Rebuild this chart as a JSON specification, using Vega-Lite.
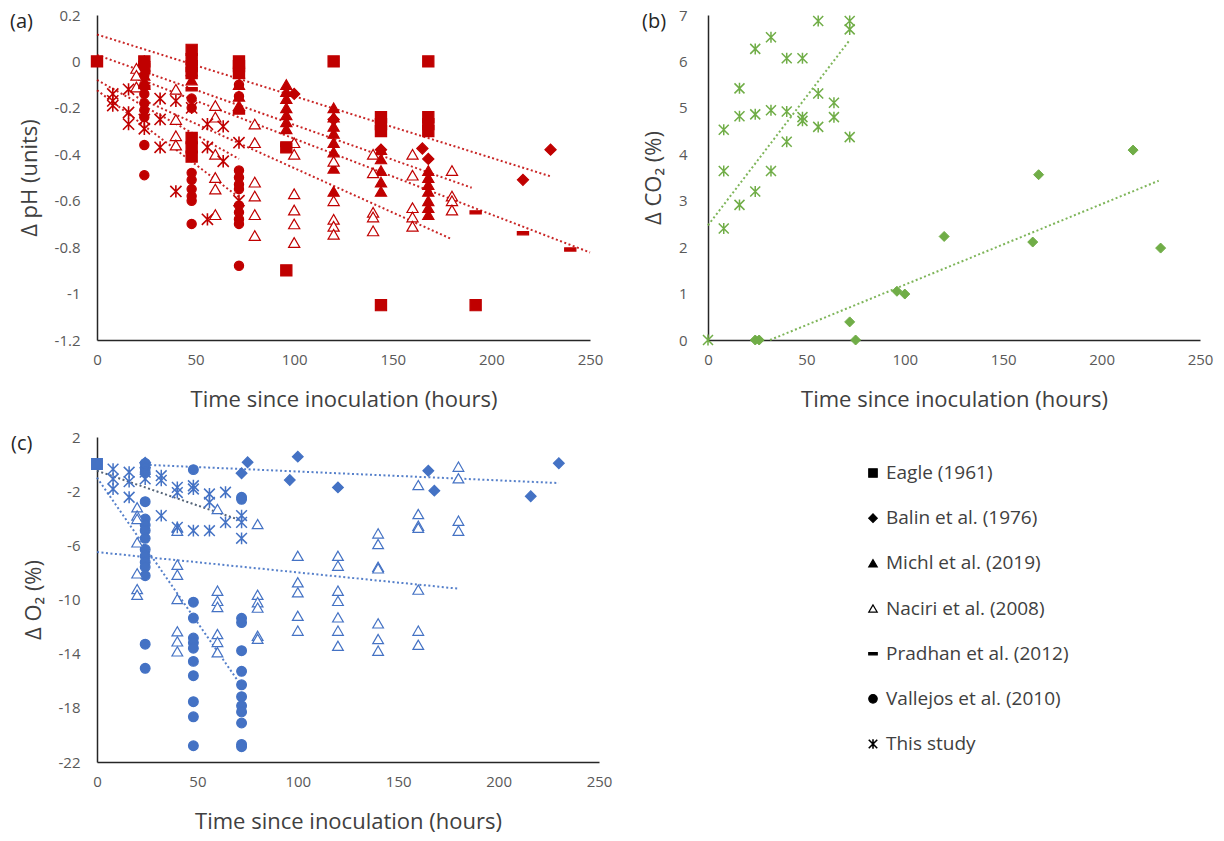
{
  "$schema": "https://vega.github.io/schema/vega-lite/v6.json",
  "bounds": "flush",
  "padding": {"left": 10, "top": 8, "right": 5, "bottom": 5},
  "background": "white",
  "config": {
    "font": "Open Sans",
    "view": {"stroke": null},
    "axis": {"grid": false, "ticks": false, "tickSize": 0, "domainColor": "#262626", "domainWidth": 1.5, "labelFont": "Open Sans", "labelFontSize": 15, "labelColor": "#595959", "titleFont": "Open Sans", "titleFontSize": 22, "titleFontWeight": "normal", "titleColor": "#404040", "labelFlush": false, "labelPadding": 12},
    "axisY": {"labelPadding": 17, "titlePadding": 13},
    "axisX": {"titlePadding": 22},
    "title": {"font": "Open Sans", "fontSize": 20, "fontWeight": "normal", "color": "#262626", "anchor": "start", "frame": "group", "offset": 0, "baseline": "top"}
  },
  "datasets": {
    "studies": [
      {"study":"Eagle (1961)"},{"study":"Balin et al. (1976)"},{"study":"Michl et al. (2019)"},{"study":"Naciri et al. (2008)"},{"study":"Pradhan et al. (2012)"},{"study":"Vallejos et al. (2010)"},{"study":"This study"}
    ],
    "ph": [
      {"study":"Eagle (1961)","t":0,"v":0},{"study":"Eagle (1961)","t":24,"v":0},{"study":"Eagle (1961)","t":24,"v":-0.03},{"study":"Eagle (1961)","t":48,"v":0.05},{"study":"Eagle (1961)","t":48,"v":0.01},{"study":"Eagle (1961)","t":48,"v":-0.02},{"study":"Eagle (1961)","t":48,"v":-0.05},{"study":"Eagle (1961)","t":48,"v":-0.33},{"study":"Eagle (1961)","t":48,"v":-0.37},{"study":"Eagle (1961)","t":48,"v":-0.41},{"study":"Eagle (1961)","t":72,"v":0},{"study":"Eagle (1961)","t":72,"v":-0.02},{"study":"Eagle (1961)","t":72,"v":-0.05},{"study":"Eagle (1961)","t":96,"v":-0.37},{"study":"Eagle (1961)","t":96,"v":-0.9},{"study":"Eagle (1961)","t":120,"v":0},{"study":"Eagle (1961)","t":144,"v":-0.24},{"study":"Eagle (1961)","t":144,"v":-0.27},{"study":"Eagle (1961)","t":144,"v":-0.3},{"study":"Eagle (1961)","t":144,"v":-1.05},{"study":"Eagle (1961)","t":168,"v":0},{"study":"Eagle (1961)","t":168,"v":-0.24},{"study":"Eagle (1961)","t":168,"v":-0.27},{"study":"Eagle (1961)","t":168,"v":-0.3},{"study":"Eagle (1961)","t":192,"v":-1.05},
      {"study":"Balin et al. (1976)","t":24,"v":0},{"study":"Balin et al. (1976)","t":72,"v":-0.03},{"study":"Balin et al. (1976)","t":100,"v":-0.14},{"study":"Balin et al. (1976)","t":120,"v":-0.25},{"study":"Balin et al. (1976)","t":144,"v":-0.38},{"study":"Balin et al. (1976)","t":165,"v":-0.375},{"study":"Balin et al. (1976)","t":168,"v":-0.42},{"study":"Balin et al. (1976)","t":216,"v":-0.51},{"study":"Balin et al. (1976)","t":230,"v":-0.38},
      {"study":"Michl et al. (2019)","t":24,"v":-0.02},{"study":"Michl et al. (2019)","t":24,"v":-0.06},{"study":"Michl et al. (2019)","t":24,"v":-0.1},{"study":"Michl et al. (2019)","t":48,"v":-0.04},{"study":"Michl et al. (2019)","t":48,"v":-0.08},{"study":"Michl et al. (2019)","t":72,"v":-0.05},{"study":"Michl et al. (2019)","t":72,"v":-0.1},{"study":"Michl et al. (2019)","t":72,"v":-0.15},{"study":"Michl et al. (2019)","t":72,"v":-0.19},{"study":"Michl et al. (2019)","t":96,"v":-0.1},{"study":"Michl et al. (2019)","t":96,"v":-0.13},{"study":"Michl et al. (2019)","t":96,"v":-0.16},{"study":"Michl et al. (2019)","t":96,"v":-0.2},{"study":"Michl et al. (2019)","t":96,"v":-0.23},{"study":"Michl et al. (2019)","t":96,"v":-0.26},{"study":"Michl et al. (2019)","t":96,"v":-0.29},{"study":"Michl et al. (2019)","t":120,"v":-0.2},{"study":"Michl et al. (2019)","t":120,"v":-0.24},{"study":"Michl et al. (2019)","t":120,"v":-0.28},{"study":"Michl et al. (2019)","t":120,"v":-0.31},{"study":"Michl et al. (2019)","t":120,"v":-0.35},{"study":"Michl et al. (2019)","t":120,"v":-0.39},{"study":"Michl et al. (2019)","t":120,"v":-0.46},{"study":"Michl et al. (2019)","t":120,"v":-0.56},{"study":"Michl et al. (2019)","t":144,"v":-0.38},{"study":"Michl et al. (2019)","t":144,"v":-0.42},{"study":"Michl et al. (2019)","t":144,"v":-0.47},{"study":"Michl et al. (2019)","t":144,"v":-0.52},{"study":"Michl et al. (2019)","t":144,"v":-0.56},{"study":"Michl et al. (2019)","t":168,"v":-0.47},{"study":"Michl et al. (2019)","t":168,"v":-0.5},{"study":"Michl et al. (2019)","t":168,"v":-0.53},{"study":"Michl et al. (2019)","t":168,"v":-0.56},{"study":"Michl et al. (2019)","t":168,"v":-0.6},{"study":"Michl et al. (2019)","t":168,"v":-0.63},{"study":"Michl et al. (2019)","t":168,"v":-0.66},
      {"study":"Naciri et al. (2008)","t":20,"v":-0.03},{"study":"Naciri et al. (2008)","t":20,"v":-0.06},{"study":"Naciri et al. (2008)","t":20,"v":-0.11},{"study":"Naciri et al. (2008)","t":40,"v":-0.12},{"study":"Naciri et al. (2008)","t":40,"v":-0.25},{"study":"Naciri et al. (2008)","t":40,"v":-0.32},{"study":"Naciri et al. (2008)","t":40,"v":-0.36},{"study":"Naciri et al. (2008)","t":60,"v":-0.19},{"study":"Naciri et al. (2008)","t":60,"v":-0.24},{"study":"Naciri et al. (2008)","t":60,"v":-0.4},{"study":"Naciri et al. (2008)","t":60,"v":-0.5},{"study":"Naciri et al. (2008)","t":60,"v":-0.55},{"study":"Naciri et al. (2008)","t":60,"v":-0.66},{"study":"Naciri et al. (2008)","t":80,"v":-0.27},{"study":"Naciri et al. (2008)","t":80,"v":-0.35},{"study":"Naciri et al. (2008)","t":80,"v":-0.52},{"study":"Naciri et al. (2008)","t":80,"v":-0.58},{"study":"Naciri et al. (2008)","t":80,"v":-0.66},{"study":"Naciri et al. (2008)","t":80,"v":-0.75},{"study":"Naciri et al. (2008)","t":100,"v":-0.35},{"study":"Naciri et al. (2008)","t":100,"v":-0.4},{"study":"Naciri et al. (2008)","t":100,"v":-0.57},{"study":"Naciri et al. (2008)","t":100,"v":-0.64},{"study":"Naciri et al. (2008)","t":100,"v":-0.7},{"study":"Naciri et al. (2008)","t":100,"v":-0.78},{"study":"Naciri et al. (2008)","t":120,"v":-0.43},{"study":"Naciri et al. (2008)","t":120,"v":-0.6},{"study":"Naciri et al. (2008)","t":120,"v":-0.68},{"study":"Naciri et al. (2008)","t":120,"v":-0.71},{"study":"Naciri et al. (2008)","t":120,"v":-0.745},{"study":"Naciri et al. (2008)","t":140,"v":-0.4},{"study":"Naciri et al. (2008)","t":140,"v":-0.48},{"study":"Naciri et al. (2008)","t":140,"v":-0.65},{"study":"Naciri et al. (2008)","t":140,"v":-0.67},{"study":"Naciri et al. (2008)","t":140,"v":-0.73},{"study":"Naciri et al. (2008)","t":160,"v":-0.4},{"study":"Naciri et al. (2008)","t":160,"v":-0.49},{"study":"Naciri et al. (2008)","t":160,"v":-0.63},{"study":"Naciri et al. (2008)","t":160,"v":-0.67},{"study":"Naciri et al. (2008)","t":160,"v":-0.71},{"study":"Naciri et al. (2008)","t":180,"v":-0.47},{"study":"Naciri et al. (2008)","t":180,"v":-0.58},{"study":"Naciri et al. (2008)","t":180,"v":-0.6},{"study":"Naciri et al. (2008)","t":180,"v":-0.64},
      {"study":"Pradhan et al. (2012)","t":24,"v":-0.11},{"study":"Pradhan et al. (2012)","t":48,"v":-0.12},{"study":"Pradhan et al. (2012)","t":72,"v":-0.22},{"study":"Pradhan et al. (2012)","t":96,"v":-0.36},{"study":"Pradhan et al. (2012)","t":192,"v":-0.65},{"study":"Pradhan et al. (2012)","t":216,"v":-0.74},{"study":"Pradhan et al. (2012)","t":240,"v":-0.81},
      {"study":"Vallejos et al. (2010)","t":24,"v":-0.02},{"study":"Vallejos et al. (2010)","t":24,"v":-0.06},{"study":"Vallejos et al. (2010)","t":24,"v":-0.1},{"study":"Vallejos et al. (2010)","t":24,"v":-0.14},{"study":"Vallejos et al. (2010)","t":24,"v":-0.18},{"study":"Vallejos et al. (2010)","t":24,"v":-0.21},{"study":"Vallejos et al. (2010)","t":24,"v":-0.24},{"study":"Vallejos et al. (2010)","t":24,"v":-0.36},{"study":"Vallejos et al. (2010)","t":24,"v":-0.49},{"study":"Vallejos et al. (2010)","t":48,"v":-0.02},{"study":"Vallejos et al. (2010)","t":48,"v":-0.16},{"study":"Vallejos et al. (2010)","t":48,"v":-0.2},{"study":"Vallejos et al. (2010)","t":48,"v":-0.35},{"study":"Vallejos et al. (2010)","t":48,"v":-0.4},{"study":"Vallejos et al. (2010)","t":48,"v":-0.48},{"study":"Vallejos et al. (2010)","t":48,"v":-0.51},{"study":"Vallejos et al. (2010)","t":48,"v":-0.55},{"study":"Vallejos et al. (2010)","t":48,"v":-0.58},{"study":"Vallejos et al. (2010)","t":48,"v":-0.6},{"study":"Vallejos et al. (2010)","t":48,"v":-0.7},{"study":"Vallejos et al. (2010)","t":72,"v":-0.05},{"study":"Vallejos et al. (2010)","t":72,"v":-0.1},{"study":"Vallejos et al. (2010)","t":72,"v":-0.15},{"study":"Vallejos et al. (2010)","t":72,"v":-0.47},{"study":"Vallejos et al. (2010)","t":72,"v":-0.5},{"study":"Vallejos et al. (2010)","t":72,"v":-0.53},{"study":"Vallejos et al. (2010)","t":72,"v":-0.55},{"study":"Vallejos et al. (2010)","t":72,"v":-0.62},{"study":"Vallejos et al. (2010)","t":72,"v":-0.65},{"study":"Vallejos et al. (2010)","t":72,"v":-0.68},{"study":"Vallejos et al. (2010)","t":72,"v":-0.7},{"study":"Vallejos et al. (2010)","t":72,"v":-0.88},
      {"study":"This study","t":8,"v":-0.14},{"study":"This study","t":8,"v":-0.17},{"study":"This study","t":8,"v":-0.19},{"study":"This study","t":16,"v":-0.12},{"study":"This study","t":16,"v":-0.22},{"study":"This study","t":16,"v":-0.27},{"study":"This study","t":24,"v":-0.25},{"study":"This study","t":24,"v":-0.29},{"study":"This study","t":32,"v":-0.16},{"study":"This study","t":32,"v":-0.25},{"study":"This study","t":32,"v":-0.37},{"study":"This study","t":40,"v":-0.17},{"study":"This study","t":40,"v":-0.56},{"study":"This study","t":48,"v":-0.2},{"study":"This study","t":56,"v":-0.27},{"study":"This study","t":56,"v":-0.37},{"study":"This study","t":56,"v":-0.68},{"study":"This study","t":64,"v":-0.28},{"study":"This study","t":64,"v":-0.43},{"study":"This study","t":72,"v":-0.35},{"study":"This study","t":72,"v":-0.6}
    ],
    "ph_trend": [
      {"study":"Balin et al. (1976)","t":0,"v":0.116},{"study":"Balin et al. (1976)","t":230,"v":-0.495},
      {"study":"Eagle (1961)","t":0,"v":0.028},{"study":"Eagle (1961)","t":190,"v":-0.544},
      {"study":"Pradhan et al. (2012)","t":24,"v":-0.084},{"study":"Pradhan et al. (2012)","t":250,"v":-0.823},
      {"study":"Naciri et al. (2008)","t":20,"v":-0.153},{"study":"Naciri et al. (2008)","t":180,"v":-0.766},
      {"study":"Vallejos et al. (2010)","t":0,"v":-0.124},{"study":"Vallejos et al. (2010)","t":72,"v":-0.585},
      {"study":"This study","t":0,"v":-0.08},{"study":"This study","t":72,"v":-0.42}
    ],
    "co2": [
      {"study":"This study","t":0,"v":0},{"study":"This study","t":8,"v":4.53},{"study":"This study","t":8,"v":3.64},{"study":"This study","t":8,"v":2.4},{"study":"This study","t":16,"v":5.42},{"study":"This study","t":16,"v":4.82},{"study":"This study","t":16,"v":2.91},{"study":"This study","t":24,"v":6.27},{"study":"This study","t":24,"v":4.86},{"study":"This study","t":24,"v":3.2},{"study":"This study","t":32,"v":6.52},{"study":"This study","t":32,"v":4.95},{"study":"This study","t":32,"v":3.64},{"study":"This study","t":40,"v":6.07},{"study":"This study","t":40,"v":4.92},{"study":"This study","t":40,"v":4.27},{"study":"This study","t":48,"v":6.07},{"study":"This study","t":48,"v":4.8},{"study":"This study","t":48,"v":4.72},{"study":"This study","t":56,"v":6.87},{"study":"This study","t":56,"v":5.31},{"study":"This study","t":56,"v":4.59},{"study":"This study","t":64,"v":5.11},{"study":"This study","t":64,"v":4.8},{"study":"This study","t":72,"v":6.87},{"study":"This study","t":72,"v":6.69},{"study":"This study","t":72,"v":4.37},
      {"study":"Balin et al. (1976)","t":24,"v":0},{"study":"Balin et al. (1976)","t":26,"v":0},{"study":"Balin et al. (1976)","t":72,"v":0.39},{"study":"Balin et al. (1976)","t":75,"v":0},{"study":"Balin et al. (1976)","t":96,"v":1.05},{"study":"Balin et al. (1976)","t":100,"v":0.99},{"study":"Balin et al. (1976)","t":120,"v":2.23},{"study":"Balin et al. (1976)","t":165,"v":2.11},{"study":"Balin et al. (1976)","t":168,"v":3.56},{"study":"Balin et al. (1976)","t":216,"v":4.09},{"study":"Balin et al. (1976)","t":230,"v":1.98}
    ],
    "co2_trend": [
      {"study":"This study","t":0,"v":2.47},{"study":"This study","t":72,"v":6.46},
      {"study":"Balin et al. (1976)","t":31.5,"v":0},{"study":"Balin et al. (1976)","t":229,"v":3.43}
    ],
    "o2": [
      {"study":"Eagle (1961)","t":0,"v":0},
      {"study":"Balin et al. (1976)","t":24,"v":0.1},{"study":"Balin et al. (1976)","t":72,"v":-0.68},{"study":"Balin et al. (1976)","t":75,"v":0.13},{"study":"Balin et al. (1976)","t":96,"v":-1.18},{"study":"Balin et al. (1976)","t":100,"v":0.55},{"study":"Balin et al. (1976)","t":120,"v":-1.72},{"study":"Balin et al. (1976)","t":165,"v":-0.49},{"study":"Balin et al. (1976)","t":168,"v":-1.96},{"study":"Balin et al. (1976)","t":216,"v":-2.38},{"study":"Balin et al. (1976)","t":230,"v":0.06},
      {"study":"Vallejos et al. (2010)","t":24,"v":0.05},{"study":"Vallejos et al. (2010)","t":24,"v":-0.3},{"study":"Vallejos et al. (2010)","t":24,"v":-0.6},{"study":"Vallejos et al. (2010)","t":24,"v":-2.78},{"study":"Vallejos et al. (2010)","t":24,"v":-4.06},{"study":"Vallejos et al. (2010)","t":24,"v":-4.5},{"study":"Vallejos et al. (2010)","t":24,"v":-4.9},{"study":"Vallejos et al. (2010)","t":24,"v":-5.48},{"study":"Vallejos et al. (2010)","t":24,"v":-6.3},{"study":"Vallejos et al. (2010)","t":24,"v":-6.8},{"study":"Vallejos et al. (2010)","t":24,"v":-7.24},{"study":"Vallejos et al. (2010)","t":24,"v":-7.6},{"study":"Vallejos et al. (2010)","t":24,"v":-8.24},{"study":"Vallejos et al. (2010)","t":24,"v":-13.3},{"study":"Vallejos et al. (2010)","t":24,"v":-15.08},{"study":"Vallejos et al. (2010)","t":48,"v":-0.41},{"study":"Vallejos et al. (2010)","t":48,"v":-10.2},{"study":"Vallejos et al. (2010)","t":48,"v":-11.37},{"study":"Vallejos et al. (2010)","t":48,"v":-12.85},{"study":"Vallejos et al. (2010)","t":48,"v":-13.2},{"study":"Vallejos et al. (2010)","t":48,"v":-13.6},{"study":"Vallejos et al. (2010)","t":48,"v":-14.57},{"study":"Vallejos et al. (2010)","t":48,"v":-15.63},{"study":"Vallejos et al. (2010)","t":48,"v":-17.55},{"study":"Vallejos et al. (2010)","t":48,"v":-18.66},{"study":"Vallejos et al. (2010)","t":48,"v":-20.8},{"study":"Vallejos et al. (2010)","t":72,"v":-2.45},{"study":"Vallejos et al. (2010)","t":72,"v":-2.6},{"study":"Vallejos et al. (2010)","t":72,"v":-11.39},{"study":"Vallejos et al. (2010)","t":72,"v":-11.7},{"study":"Vallejos et al. (2010)","t":72,"v":-13.78},{"study":"Vallejos et al. (2010)","t":72,"v":-15.3},{"study":"Vallejos et al. (2010)","t":72,"v":-16.3},{"study":"Vallejos et al. (2010)","t":72,"v":-17.18},{"study":"Vallejos et al. (2010)","t":72,"v":-17.85},{"study":"Vallejos et al. (2010)","t":72,"v":-18.3},{"study":"Vallejos et al. (2010)","t":72,"v":-19.12},{"study":"Vallejos et al. (2010)","t":72,"v":-20.7},{"study":"Vallejos et al. (2010)","t":72,"v":-20.87},
      {"study":"Naciri et al. (2008)","t":20,"v":-3.19},{"study":"Naciri et al. (2008)","t":20,"v":-3.8},{"study":"Naciri et al. (2008)","t":20,"v":-4.05},{"study":"Naciri et al. (2008)","t":20,"v":-5.78},{"study":"Naciri et al. (2008)","t":20,"v":-8.07},{"study":"Naciri et al. (2008)","t":20,"v":-9.23},{"study":"Naciri et al. (2008)","t":20,"v":-9.65},{"study":"Naciri et al. (2008)","t":40,"v":-4.67},{"study":"Naciri et al. (2008)","t":40,"v":-4.92},{"study":"Naciri et al. (2008)","t":40,"v":-7.43},{"study":"Naciri et al. (2008)","t":40,"v":-8.17},{"study":"Naciri et al. (2008)","t":40,"v":-9.96},{"study":"Naciri et al. (2008)","t":40,"v":-12.35},{"study":"Naciri et al. (2008)","t":40,"v":-13.09},{"study":"Naciri et al. (2008)","t":40,"v":-13.83},{"study":"Naciri et al. (2008)","t":60,"v":-3.32},{"study":"Naciri et al. (2008)","t":60,"v":-9.35},{"study":"Naciri et al. (2008)","t":60,"v":-10.1},{"study":"Naciri et al. (2008)","t":60,"v":-10.55},{"study":"Naciri et al. (2008)","t":60,"v":-12.55},{"study":"Naciri et al. (2008)","t":60,"v":-13.13},{"study":"Naciri et al. (2008)","t":60,"v":-13.9},{"study":"Naciri et al. (2008)","t":80,"v":-4.43},{"study":"Naciri et al. (2008)","t":80,"v":-9.65},{"study":"Naciri et al. (2008)","t":80,"v":-10.2},{"study":"Naciri et al. (2008)","t":80,"v":-10.6},{"study":"Naciri et al. (2008)","t":80,"v":-12.68},{"study":"Naciri et al. (2008)","t":80,"v":-12.9},{"study":"Naciri et al. (2008)","t":100,"v":-6.77},{"study":"Naciri et al. (2008)","t":100,"v":-8.73},{"study":"Naciri et al. (2008)","t":100,"v":-9.47},{"study":"Naciri et al. (2008)","t":100,"v":-11.2},{"study":"Naciri et al. (2008)","t":100,"v":-12.3},{"study":"Naciri et al. (2008)","t":120,"v":-6.77},{"study":"Naciri et al. (2008)","t":120,"v":-7.5},{"study":"Naciri et al. (2008)","t":120,"v":-9.35},{"study":"Naciri et al. (2008)","t":120,"v":-10.1},{"study":"Naciri et al. (2008)","t":120,"v":-11.32},{"study":"Naciri et al. (2008)","t":120,"v":-12.3},{"study":"Naciri et al. (2008)","t":120,"v":-13.42},{"study":"Naciri et al. (2008)","t":140,"v":-5.12},{"study":"Naciri et al. (2008)","t":140,"v":-5.9},{"study":"Naciri et al. (2008)","t":140,"v":-7.58},{"study":"Naciri et al. (2008)","t":140,"v":-7.7},{"study":"Naciri et al. (2008)","t":140,"v":-11.76},{"study":"Naciri et al. (2008)","t":140,"v":-12.92},{"study":"Naciri et al. (2008)","t":140,"v":-13.78},{"study":"Naciri et al. (2008)","t":160,"v":-1.55},{"study":"Naciri et al. (2008)","t":160,"v":-3.69},{"study":"Naciri et al. (2008)","t":160,"v":-4.55},{"study":"Naciri et al. (2008)","t":160,"v":-4.7},{"study":"Naciri et al. (2008)","t":160,"v":-9.27},{"study":"Naciri et al. (2008)","t":160,"v":-12.3},{"study":"Naciri et al. (2008)","t":160,"v":-13.34},{"study":"Naciri et al. (2008)","t":180,"v":-0.19},{"study":"Naciri et al. (2008)","t":180,"v":-1.05},{"study":"Naciri et al. (2008)","t":180,"v":-4.18},{"study":"Naciri et al. (2008)","t":180,"v":-4.92},
      {"study":"This study","t":8,"v":-0.37},{"study":"This study","t":8,"v":-1.1},{"study":"This study","t":8,"v":-1.84},{"study":"This study","t":16,"v":-0.6},{"study":"This study","t":16,"v":-1.3},{"study":"This study","t":16,"v":-2.45},{"study":"This study","t":24,"v":-0.6},{"study":"This study","t":24,"v":-1.1},{"study":"This study","t":32,"v":-0.86},{"study":"This study","t":32,"v":-1.2},{"study":"This study","t":32,"v":-3.81},{"study":"This study","t":40,"v":-1.72},{"study":"This study","t":40,"v":-2.1},{"study":"This study","t":40,"v":-4.67},{"study":"This study","t":48,"v":-1.6},{"study":"This study","t":48,"v":-1.84},{"study":"This study","t":48,"v":-4.92},{"study":"This study","t":56,"v":-2.21},{"study":"This study","t":56,"v":-2.82},{"study":"This study","t":56,"v":-4.92},{"study":"This study","t":64,"v":-2.08},{"study":"This study","t":64,"v":-4.3},{"study":"This study","t":72,"v":-3.8},{"study":"This study","t":72,"v":-4.3},{"study":"This study","t":72,"v":-5.48}
    ],
    "o2_trend": [
      {"study":"Balin et al. (1976)","t":24,"v":-0.05},{"study":"Balin et al. (1976)","t":230,"v":-1.4},
      {"study":"This study","t":0,"v":-0.49},{"study":"This study","t":72,"v":-4.18},
      {"study":"Vallejos et al. (2010)","t":0,"v":-1.0},{"study":"Vallejos et al. (2010)","t":72,"v":-16.4},
      {"study":"Naciri et al. (2008)","t":0,"v":-6.5},{"study":"Naciri et al. (2008)","t":180,"v":-9.2}
    ]
  },
  "columns": 2,
  "spacing": {"row": 97, "column": 109},
  "concat": [
    {
      "width": 493, "height": 325,
      "title": {"text": "(a)", "dx": -87, "dy": 28},
      "encoding": {
        "x": {"field": "t", "type": "quantitative", "scale": {"domain": [0, 250], "nice": false}, "axis": {"values": [0, 50, 100, 150, 200, 250], "title": "Time since inoculation (hours)"}},
        "y": {"field": "v", "type": "quantitative", "scale": {"domain": [-1.2, 0.2], "nice": false, "zero": false}, "axis": {"values": [-1.2, -1, -0.8, -0.6, -0.4, -0.2, 0, 0.2], "title": "\u0394 pH (units)", "labelExpr": "replace(format(datum.value, '~g'), '\u2212', '-')"}}
      },
      "layer": [
        {"data": {"name": "ph_trend"}, "mark": {"type": "line", "color": "#C00000", "strokeWidth": 2, "strokeDash": [2, 2.5], "opacity": 0.85}, "encoding": {"detail": {"field": "study"}}},
        {"data": {"name": "ph"}, "mark": {"type": "point", "opacity": 1},
         "encoding": {
           "shape": {"field": "study", "type": "nominal", "scale": {"domain": ["Eagle (1961)", "Balin et al. (1976)", "Michl et al. (2019)", "Naciri et al. (2008)", "Pradhan et al. (2012)", "Vallejos et al. (2010)", "This study"], "range": ["square", "diamond", "triangle-up", "triangle-up", "M-1,-0.28L1,-0.28L1,0.28L-1,0.28Z", "circle", "M-1,-1L1,1M-1,1L1,-1M0,-1.1L0,1.1"]}, "legend": null},
           "fill": {"condition": {"test": "datum.study === 'Naciri et al. (2008)'", "value": "white"}, "value": "#C00000"},
           "stroke": {"value": "#C00000"},
           "strokeWidth": {"condition": {"test": "datum.study === 'This study'", "value": 1.6}, "value": 1.2},
           "size": {"condition": {"test": "datum.study === 'Vallejos et al. (2010)'", "value": 85}, "value": 125}
         }}
      ]
    },
    {
      "width": 492, "height": 325,
      "title": {"text": "(b)", "dx": -66, "dy": 28},
      "encoding": {
        "x": {"field": "t", "type": "quantitative", "scale": {"domain": [0, 250], "nice": false}, "axis": {"values": [0, 50, 100, 150, 200, 250], "title": "Time since inoculation (hours)"}},
        "y": {"field": "v", "type": "quantitative", "scale": {"domain": [0, 7], "nice": false}, "axis": {"values": [0, 1, 2, 3, 4, 5, 6, 7], "title": "\u0394 CO\u2082 (%)", "labelPadding": 21}}
      },
      "layer": [
        {"data": {"name": "co2_trend"}, "mark": {"type": "line", "color": "#70AD47", "strokeWidth": 2, "strokeDash": [2, 2.5], "opacity": 0.9}, "encoding": {"detail": {"field": "study"}}},
        {"data": {"name": "co2"}, "mark": {"type": "point", "opacity": 1},
         "encoding": {
           "shape": {"field": "study", "type": "nominal", "scale": {"domain": ["Eagle (1961)", "Balin et al. (1976)", "Michl et al. (2019)", "Naciri et al. (2008)", "Pradhan et al. (2012)", "Vallejos et al. (2010)", "This study"], "range": ["square", "diamond", "triangle-up", "triangle-up", "M-1,-0.28L1,-0.28L1,0.28L-1,0.28Z", "circle", "M-1,-1L1,1M-1,1L1,-1M0,-1.1L0,1.1"]}, "legend": null},
           "fill": {"value": "#70AD47"},
           "stroke": {"value": "#70AD47"},
           "strokeWidth": {"condition": {"test": "datum.study === 'This study'", "value": 1.5}, "value": 1},
           "size": {"value": 100}
         }}
      ]
    },
    {
      "width": 502, "height": 325,
      "title": {"text": "(c)", "dx": -86, "dy": 28},
      "encoding": {
        "x": {"field": "t", "type": "quantitative", "scale": {"domain": [0, 250], "nice": false}, "axis": {"values": [0, 50, 100, 150, 200, 250], "title": "Time since inoculation (hours)"}},
        "y": {"field": "v", "type": "quantitative", "scale": {"domain": [-22, 2], "nice": false, "zero": false}, "axis": {"values": [2, -2, -6, -10, -14, -18, -22], "title": "\u0394 O\u2082 (%)", "labelExpr": "replace(format(datum.value, '~g'), '\u2212', '-')"}}
      },
      "layer": [
        {"data": {"name": "o2_trend"}, "mark": {"type": "line", "strokeWidth": 2, "strokeDash": [2, 2.5], "opacity": 0.9},
         "encoding": {"detail": {"field": "study"}, "color": {"condition": {"test": "datum.study === 'This study'", "value": "#44546A"}, "value": "#4472C4"}}},
        {"data": {"name": "o2"}, "mark": {"type": "point", "opacity": 1},
         "encoding": {
           "shape": {"field": "study", "type": "nominal", "scale": {"domain": ["Eagle (1961)", "Balin et al. (1976)", "Michl et al. (2019)", "Naciri et al. (2008)", "Pradhan et al. (2012)", "Vallejos et al. (2010)", "This study"], "range": ["square", "diamond", "triangle-up", "triangle-up", "M-1,-0.28L1,-0.28L1,0.28L-1,0.28Z", "circle", "M-1,-1L1,1M-1,1L1,-1M0,-1.1L0,1.1"]}, "legend": null},
           "fill": {"condition": {"test": "datum.study === 'Naciri et al. (2008)'", "value": "white"}, "value": "#4472C4"},
           "stroke": {"value": "#4472C4"},
           "strokeWidth": {"condition": {"test": "datum.study === 'This study'", "value": 1.5}, "value": 1.2},
           "size": {"condition": {"test": "datum.study === 'Vallejos et al. (2010)'", "value": 95}, "value": 115}
         }}
      ]
    },
    {
      "width": 330, "height": 325,
      "data": {"name": "studies"},
      "encoding": {
        "y": {"field": "study", "type": "nominal", "sort": ["Eagle (1961)", "Balin et al. (1976)", "Michl et al. (2019)", "Naciri et al. (2008)", "Pradhan et al. (2012)", "Vallejos et al. (2010)", "This study"], "scale": {"type": "point", "range": [36, 307], "padding": 0}, "axis": null}
      },
      "layer": [
        {"mark": {"type": "point", "opacity": 1, "size": 72},
         "encoding": {
           "shape": {"field": "study", "type": "nominal", "scale": {"domain": ["Eagle (1961)", "Balin et al. (1976)", "Michl et al. (2019)", "Naciri et al. (2008)", "Pradhan et al. (2012)", "Vallejos et al. (2010)", "This study"], "range": ["square", "diamond", "triangle-up", "triangle-up", "M-1,-0.28L1,-0.28L1,0.28L-1,0.28Z", "circle", "M-1,-1L1,1M-1,1L1,-1M0,-1.1L0,1.1"]}, "legend": null},
           "fill": {"condition": {"test": "datum.study === 'Naciri et al. (2008)'", "value": "white"}, "value": "black"},
           "stroke": {"value": "black"},
           "strokeWidth": {"condition": {"test": "datum.study === 'This study'", "value": 1.6}, "value": 1.2}
         }},
        {"mark": {"type": "text", "align": "left", "baseline": "middle", "dx": 13, "font": "Open Sans", "fontSize": 19, "color": "#404040"},
         "encoding": {"text": {"field": "study"}}}
      ]
    }
  ]
}
